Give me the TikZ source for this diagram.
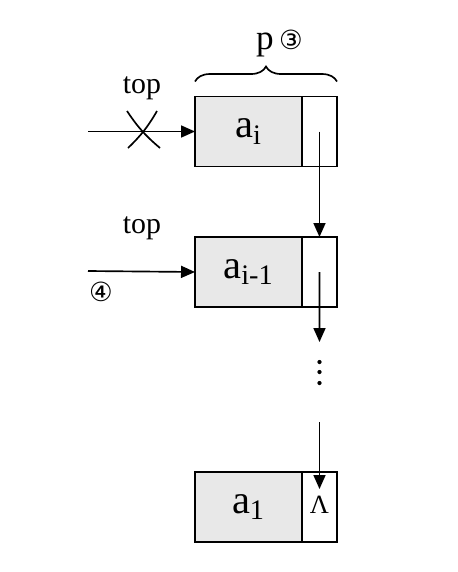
\documentclass[tikz,border=0pt]{standalone}
\usepackage{fontspec}
\setmainfont{Liberation Serif}
\newfontfamily\circfont{DejaVu Sans}
\usetikzlibrary{arrows.meta,positioning,decorations.pathreplacing}

\begin{document}
\begin{tikzpicture}[x=0.02cm, y=-0.02cm, line width=0.95pt,
  datafield/.style={draw, fill=gray!18, outer sep=0pt, inner sep=0pt,
    minimum width=2.14cm, minimum height=1.4cm, font=\fontsize{23}{25}\selectfont},
  ptrfield/.style={draw, outer sep=0pt, inner sep=0pt,
    minimum width=0.7cm, minimum height=1.4cm},
  link/.style={-{Triangle[length=2.8mm, width=2.4mm]}},
  lbl/.style={font=\fontsize{17}{20}\selectfont}]

\useasboundingbox (0,0) rectangle (457,572);

% Nodes of the stack
\node[datafield] (ai) at (248.5,131.5) {a\textsubscript{i}};
\node[ptrfield, right=0pt of ai] (pi) {};
\node[datafield] (aim) at (248.5,272) {a\textsubscript{i-1}};
\node[ptrfield, right=0pt of aim] (pim) {};
\node[datafield] (aone) at (248.5,507) {a\textsubscript{1}};
\node[ptrfield, right=0pt of aone] (pone) {};
\node[font=\fontsize{15}{16}\selectfont] (nil) at ([yshift=0.05cm]pone.center) {Λ};

% Brace over the first node
\draw[decorate, decoration={brace, amplitude=0.3cm}]
  ([yshift=0.3cm]ai.north west) -- ([yshift=0.3cm]pi.north east);
\node[font=\fontsize{20}{22}\selectfont] (p) at (265,45) {p};
\node[font=\fontsize{15}{16}\selectfont\circfont] (step3) at (291,40) {③};

% Old top pointer (crossed out)
\coordinate (topold) at (88,131.5);
\node[lbl] (top1) at (142,88) {top};
\draw[link] (topold) -- (ai.west);
\draw (127,111) to[bend right=8] (160,148);
\draw (157,111) to[bend left=8] (128,148);

% New top pointer
\coordinate (topnew) at (88,271);
\node[lbl] (top2) at (142,228) {top};
\draw[link] (topnew) -- (aim.west);
\node[font=\fontsize{15}{16}\selectfont\circfont] (step4) at (101,292) {④};

% Links down the chain
\draw[link] (pi.center) -- (pim.north);
\coordinate (dotstop) at (319.5,342);
\draw[link] (pim.center) -- (dotstop);
\foreach \y in {362,372,383}
  \fill (319.5,\y) circle (1.2pt);
\coordinate (dotsend) at (319.5,422);
\coordinate (niltip) at (319.5,489);
\draw[link] (dotsend) -- (niltip);

\end{tikzpicture}
\end{document}
